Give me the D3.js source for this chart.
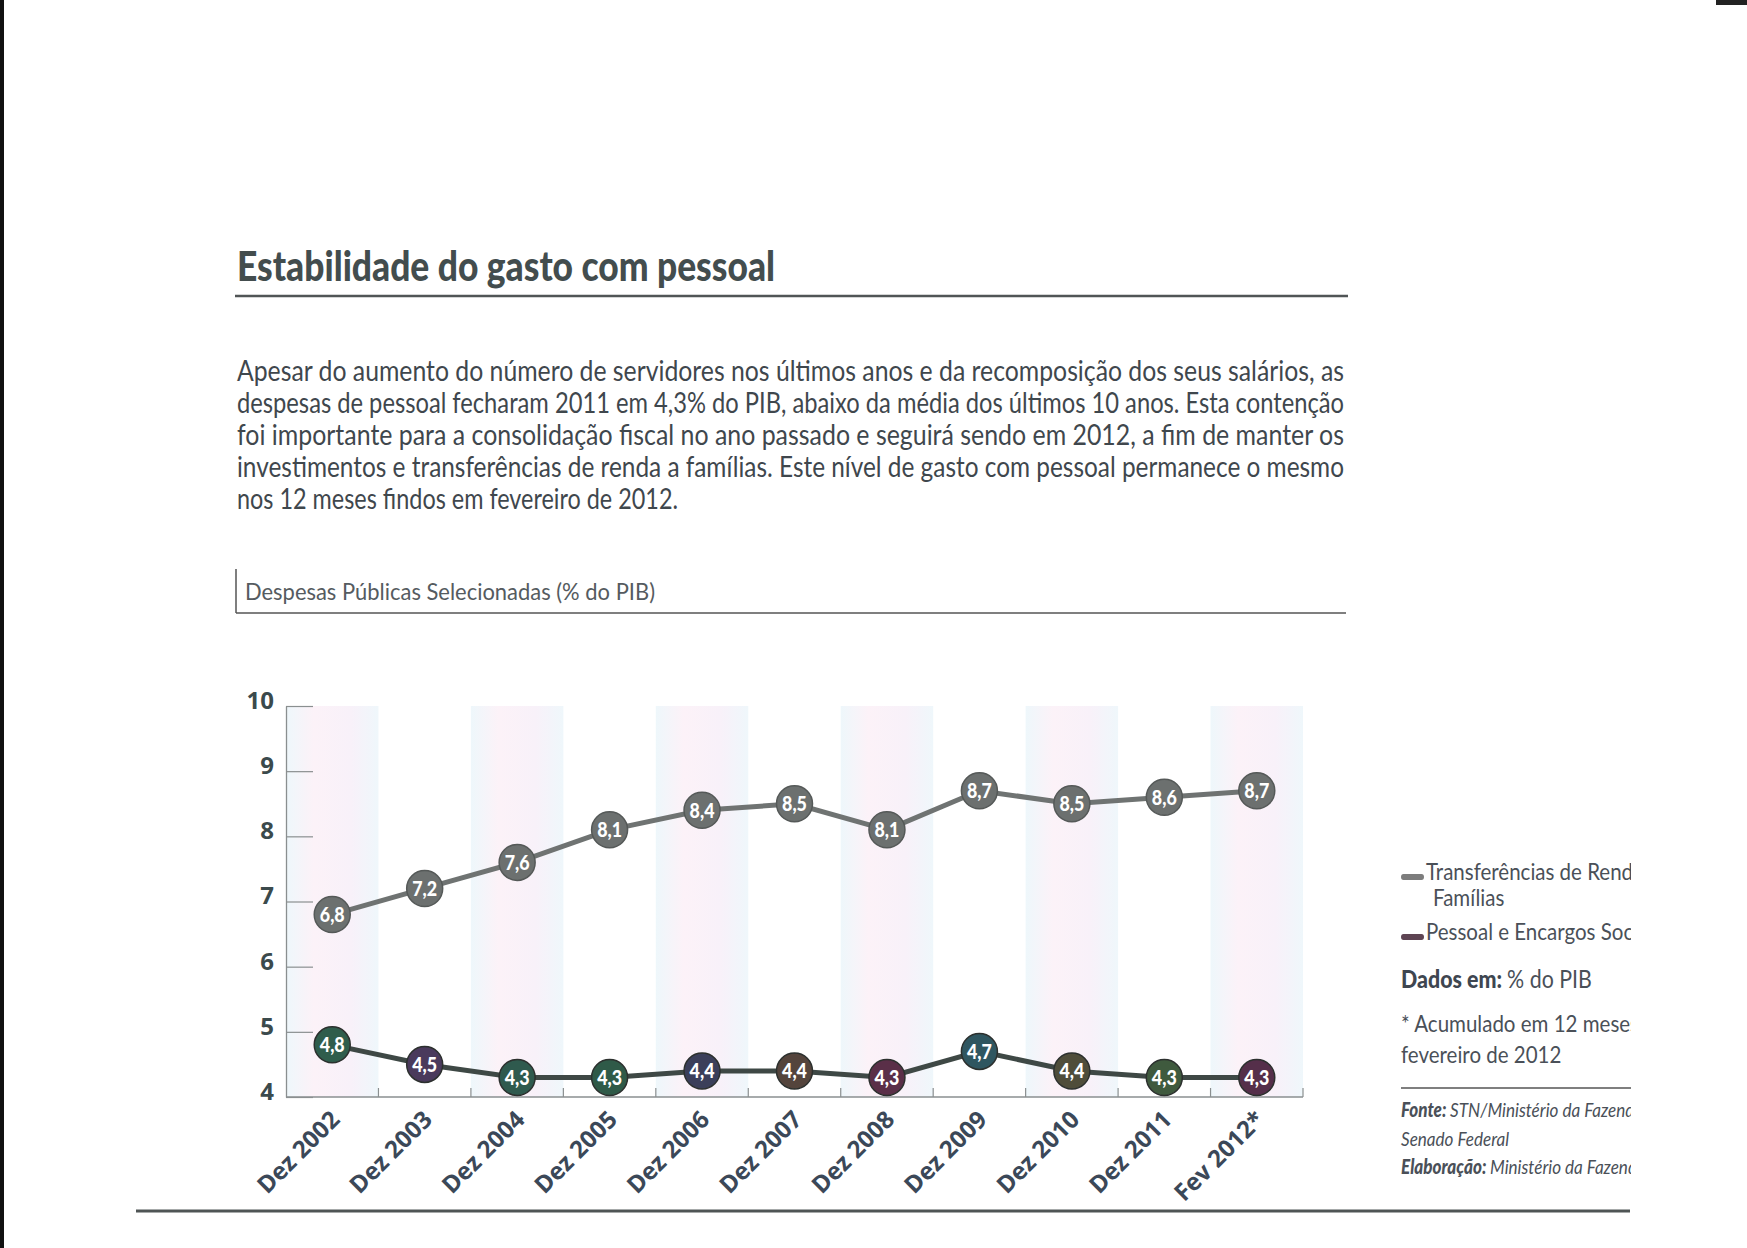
<!DOCTYPE html>
<html>
<head>
<meta charset="utf-8">
<script src="https://cdn.jsdelivr.net/npm/d3@7"></script>
<style>
  body { margin: 0; background: #fff; }
  svg { display: block; }
</style>
</head>
<body>
<svg id="chart" width="1747" height="1248"></svg>
<script>
// data
var categories = ["Dez 2002", "Dez 2003", "Dez 2004", "Dez 2005", "Dez 2006", "Dez 2007",
                  "Dez 2008", "Dez 2009", "Dez 2010", "Dez 2011", "Fev 2012*"];
var transferencias = [6.8, 7.2, 7.6, 8.1, 8.4, 8.5, 8.1, 8.7, 8.5, 8.6, 8.7];
var pessoal = [4.8, 4.5, 4.3, 4.3, 4.4, 4.4, 4.3, 4.7, 4.4, 4.3, 4.3];
var yTicks = [4, 5, 6, 7, 8, 9, 10];

var title = "Estabilidade do gasto com pessoal";
var paragraph = [
  "Apesar do aumento do número de servidores nos últimos anos e da recomposição dos seus salários, as",
  "despesas de pessoal fecharam 2011 em 4,3% do PIB, abaixo da média dos últimos 10 anos. Esta contenção",
  "foi importante para a consolidação fiscal no ano passado e seguirá sendo em 2012, a fim de manter os",
  "investimentos e transferências de renda a famílias. Este nível de gasto com pessoal permanece o mesmo",
  "nos 12 meses findos em fevereiro de 2012."
];
var subtitle = "Despesas Públicas Selecionadas (% do PIB)";

// print colours of the dark markers (registration drift in the scan)
var pessoalMarkerColors = ["#2f5d4c", "#4a3a5c", "#2f5a4e", "#2f5a48", "#3b3f5a", "#54443c",
                           "#5a2f48", "#2f5660", "#4f4d3a", "#3f5a3e", "#552f4a"];

// no condensed font installed: use Lato and squeeze it horizontally
var FONT = "Lato, 'Open Sans', 'DejaVu Sans', sans-serif";
var BOLDFONT = "'Open Sans', 'Noto Sans', 'DejaVu Sans', sans-serif";

var svg = d3.select("#chart");
svg.append("rect").attr("width", 1747).attr("height", 1248).attr("fill", "#fff");

function squeeze(sel, w) {
  sel.attr("textLength", w).attr("lengthAdjust", "spacingAndGlyphs");
}

// scan edges
svg.append("rect").attr("x", 0).attr("y", 0).attr("width", 4).attr("height", 1248).attr("fill", "#111");
svg.append("rect").attr("x", 1716).attr("y", 0).attr("width", 31).attr("height", 5).attr("fill", "#222");

// ---- header ----
var titleText = svg.append("text")
  .attr("x", 237).attr("y", 281)
  .attr("font-family", FONT).attr("font-weight", "900")
  .attr("font-size", 41).attr("fill", "#434d4e")
  .text(title);
squeeze(titleText, 538);

svg.append("line")
  .attr("x1", 235).attr("x2", 1348).attr("y1", 296).attr("y2", 296)
  .attr("stroke", "#505556").attr("stroke-width", 2.5);

// justified paragraph
var paraLeft = 237, paraRight = 1344;
var para = svg.append("g")
  .attr("font-family", FONT).attr("font-size", 29).attr("fill", "#3f474d");

var squeezeF = 1;
paragraph.forEach(function(line, i) {
  var t = para.append("text")
    .attr("x", paraLeft).attr("y", 381 + i * 32)
    .text(line);
  var w = t.node().getComputedTextLength();
  if (i === 0) squeezeF = (paraRight - paraLeft) / w;
  if (i < paragraph.length - 1) {
    squeeze(t, paraRight - paraLeft);
  } else {
    squeeze(t, 441);
  }
});

// chart subtitle box
svg.append("line").attr("x1", 236).attr("x2", 236).attr("y1", 569).attr("y2", 613)
  .attr("stroke", "#555").attr("stroke-width", 1.5);
svg.append("line").attr("x1", 236).attr("x2", 1346).attr("y1", 613).attr("y2", 613)
  .attr("stroke", "#555").attr("stroke-width", 1.5);
var sub = svg.append("text")
  .attr("x", 245).attr("y", 600)
  .attr("font-family", FONT).attr("font-size", 23).attr("fill", "#555b60")
  .text(subtitle);
squeeze(sub, 410);

// ---- chart ----
var plot = { left: 286, right: 1303, top: 706, bottom: 1097 };

var x = d3.scaleBand()
  .domain(categories)
  .range([plot.left, plot.right]);

var y = d3.scaleLinear()
  .domain([4, 10])
  .range([plot.bottom, plot.top]);

var cx = function(i) { return x(categories[i]) + x.bandwidth() / 2; };

// background stripes
var defs = svg.append("defs");
var grad = defs.append("linearGradient").attr("id", "stripe").attr("x1", 0).attr("x2", 1).attr("y1", 0).attr("y2", 0);
grad.append("stop").attr("offset", "0%").attr("stop-color", "#eef7fb");
grad.append("stop").attr("offset", "30%").attr("stop-color", "#fcf2f8");
grad.append("stop").attr("offset", "70%").attr("stop-color", "#f8f1f9");
grad.append("stop").attr("offset", "100%").attr("stop-color", "#eff7fb");

svg.append("g").selectAll("rect")
  .data(categories.filter(function(d, i) { return i % 2 === 0; }))
  .join("rect")
  .attr("x", function(d) { return x(d); })
  .attr("y", y(10))
  .attr("width", x.bandwidth())
  .attr("height", y(4) - y(10))
  .attr("fill", "url(#stripe)");

// y axis
var yAxis = d3.axisLeft(y)
  .tickValues(yTicks)
  .tickFormat(d3.format("d"))
  .tickSize(-27)
  .tickSizeOuter(0)
  .tickPadding(12);

var gy = svg.append("g")
  .attr("transform", "translate(" + plot.left + ",0)")
  .call(yAxis);
gy.select(".domain").attr("stroke", "#8a8f90").attr("stroke-width", 1.3);
gy.selectAll(".tick line").attr("stroke", "#8a8f90").attr("stroke-width", 1.2);
gy.selectAll(".tick text")
  .attr("font-family", BOLDFONT).attr("font-weight", "bold")
  .attr("font-size", 24).attr("fill", "#3b4a4c")
  .attr("dy", "0.1em");

// x axis line + boundary ticks
svg.append("line")
  .attr("x1", plot.left).attr("x2", plot.right)
  .attr("y1", plot.bottom).attr("y2", plot.bottom)
  .attr("stroke", "#8a8f90").attr("stroke-width", 1.3);

svg.append("g").selectAll("line")
  .data(categories.slice(1).concat(["end"]))
  .join("line")
  .attr("x1", function(d) { return d === "end" ? plot.right : x(d); })
  .attr("x2", function(d) { return d === "end" ? plot.right : x(d); })
  .attr("y1", plot.bottom).attr("y2", plot.bottom - 9)
  .attr("stroke", "#8a8f90").attr("stroke-width", 1.2);

// x labels
svg.append("g").selectAll("text")
  .data(categories)
  .join("text")
  .attr("transform", function(d, i) {
    return "translate(" + (cx(i) + 9) + "," + (plot.bottom + 24) + ") rotate(-45)";
  })
  .attr("text-anchor", "end")
  .attr("font-family", BOLDFONT).attr("font-weight", "bold")
  .attr("font-size", 24).attr("fill", "#3b4858")
  .text(function(d) { return d; });

// lines
var fmt = function(v) { return d3.format(".1f")(v).replace(".", ","); };

var line = d3.line()
  .x(function(d, i) { return cx(i); })
  .y(function(d) { return y(d); });

svg.append("path")
  .datum(transferencias)
  .attr("d", line)
  .attr("fill", "none").attr("stroke", "#6f7372").attr("stroke-width", 5);

svg.append("path")
  .datum(pessoal)
  .attr("d", line)
  .attr("fill", "none").attr("stroke", "#3e4845").attr("stroke-width", 5);

function drawMarkers(values, fillFn, stroke) {
  var g = svg.append("g").selectAll("g")
    .data(values)
    .join("g")
    .attr("transform", function(d, i) { return "translate(" + cx(i) + "," + y(d) + ")"; });
  g.append("circle")
    .attr("r", 18)
    .attr("fill", fillFn)
    .attr("stroke", stroke).attr("stroke-width", 1.5);
  g.append("text")
    .attr("text-anchor", "middle").attr("dy", "0.36em")
    .attr("font-family", FONT).attr("font-weight", "900")
    .attr("font-size", 21).attr("fill", "#fff")
    .text(fmt)
    .each(function() {
      var L = this.getComputedTextLength();
      squeeze(d3.select(this), L * 0.85);
    });
}

drawMarkers(transferencias, function() { return "#6c706f"; }, "#555958");
drawMarkers(pessoal, function(d, i) { return pessoalMarkerColors[i]; }, "#2c302e");

// ---- legend / notes (clipped at the page edge like the scan) ----
defs.append("clipPath").attr("id", "legendClip")
  .append("rect").attr("x", 1390).attr("y", 840).attr("width", 241).attr("height", 360);

var legOuter = svg.append("g").attr("clip-path", "url(#legendClip)");
var leg = legOuter.append("g")
  .attr("transform", "translate(1401,0) scale(" + squeezeF + ",1)")
  .attr("font-family", FONT).attr("fill", "#4a5058");

leg.append("rect").attr("x", 0).attr("y", 874).attr("width", 23 / squeezeF).attr("height", 6).attr("rx", 3)
  .attr("fill", "#7d7d7d");
leg.append("text").attr("x", 25 / squeezeF).attr("y", 880).attr("font-size", 24)
  .text("Transferências de Renda às");
leg.append("text").attr("x", 32 / squeezeF).attr("y", 906).attr("font-size", 24)
  .text("Famílias");

leg.append("rect").attr("x", 0).attr("y", 934).attr("width", 23 / squeezeF).attr("height", 6).attr("rx", 3)
  .attr("fill", "#5e4453");
leg.append("text").attr("x", 25 / squeezeF).attr("y", 940).attr("font-size", 24)
  .text("Pessoal e Encargos Sociais");

var dados = leg.append("text").attr("x", 0).attr("y", 988).attr("font-size", 25);
dados.append("tspan").attr("font-weight", "900")
  .attr("fill", "#3e4650").text("Dados em: ");
dados.append("tspan").text("% do PIB");

leg.append("text").attr("x", 0).attr("y", 1032).attr("font-size", 24)
  .text("* Acumulado em 12 meses até");
leg.append("text").attr("x", 0).attr("y", 1063).attr("font-size", 24)
  .text("fevereiro de 2012");

legOuter.append("line").attr("x1", 1401).attr("x2", 1631).attr("y1", 1088).attr("y2", 1088)
  .attr("stroke", "#555").attr("stroke-width", 1.5);

var fonte = leg.append("text").attr("x", 0).attr("y", 1117).attr("font-size", 20).attr("font-style", "italic");
fonte.append("tspan").attr("font-weight", "900").text("Fonte: ");
fonte.append("tspan").text("STN/Ministério da Fazenda e");
leg.append("text").attr("x", 0).attr("y", 1146).attr("font-size", 20).attr("font-style", "italic")
  .text("Senado Federal");
var elab = leg.append("text").attr("x", 0).attr("y", 1174).attr("font-size", 20).attr("font-style", "italic");
elab.append("tspan").attr("font-weight", "900").text("Elaboração: ");
elab.append("tspan").text("Ministério da Fazenda");

// bottom rule
svg.append("line")
  .attr("x1", 136).attr("x2", 1630).attr("y1", 1211).attr("y2", 1211)
  .attr("stroke", "#4f5555").attr("stroke-width", 3);
</script>
</body>
</html>
